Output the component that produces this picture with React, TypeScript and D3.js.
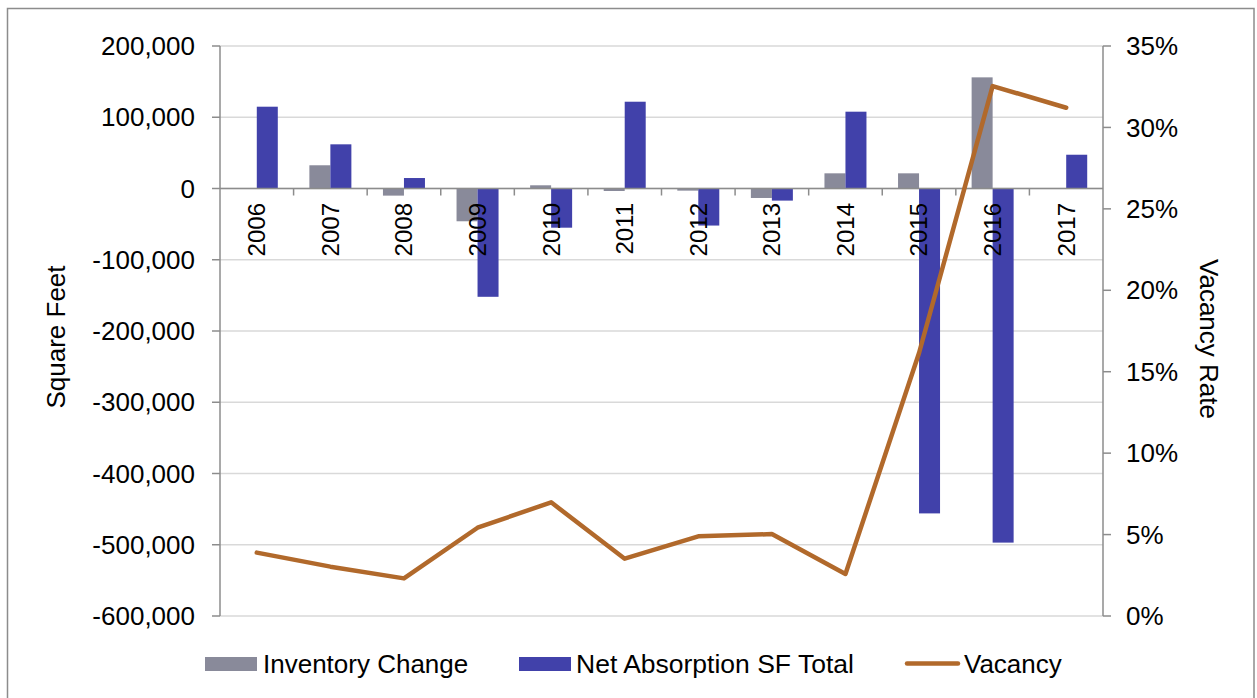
import React from "react";
import * as d3 from "d3";

const years = ["2006","2007","2008","2009","2010","2011","2012","2013","2014","2015","2016","2017"];
const inventoryChange = [0, 32600, -10000, -46000, 4500, -3500, -3000, -13300, 21300, 21300, 156000, 0];
const netAbsorption = [114800, 62000, 14700, -152000, -55000, 121800, -52000, -17000, 107800, -456000, -497000, 47400];
const vacancy = [0.0389, 0.0303, 0.0231, 0.0542, 0.0698, 0.0352, 0.0489, 0.0503, 0.0258, 0.1615, 0.3254, 0.3121];
const leftTicks = [200000, 100000, 0, -100000, -200000, -300000, -400000, -500000, -600000];
const rightTicks = [0, 0.05, 0.1, 0.15, 0.2, 0.25, 0.3, 0.35];
const seriesNames = ["Inventory Change", "Net Absorption SF Total", "Vacancy"];

const W = 1257, H = 698;
const left = 220, right = 1103, top = 46, bottom = 616;
const FONT = "'Liberation Sans', Arial, sans-serif";
const GRAY = "#898A9A";
const BLUE = "#4141AA";
const ORANGE = "#B1692B";
const AXIS = "#8C8C8C";
const GRID = "#D9D9D9";

export default function App() {
  const x = d3.scaleBand<string>().domain(years).range([left, right]).paddingInner(0).paddingOuter(0);
  const x1 = d3.scaleBand<string>().domain(["inv", "net"]).range([0, x.bandwidth()]).paddingInner(0).paddingOuter(0.752);
  const yL = d3.scaleLinear().domain([-600000, 200000]).range([bottom, top]);
  const yR = d3.scaleLinear().domain([0, 0.35]).range([bottom, top]);
  const fmtL = (v: number) => d3.format(",")(v).replace("\u2212", "-");
  const fmtR = d3.format(".0%");
  const y0 = yL(0);

  const line = d3.line<number>()
    .x((_, i) => (x(years[i]) as number) + x.bandwidth() / 2)
    .y((d) => yR(d));

  const barRect = (v: number, i: number, key: string, color: string) => {
    const bx = (x(years[i]) as number) + (x1(key) as number);
    const yv = yL(v);
    return (
      <rect key={key + i} x={bx} y={Math.min(yv, y0)} width={x1.bandwidth()} height={Math.abs(yv - y0)} fill={color} />
    );
  };

  return (
    <svg width={W} height={H} style={{ position: "fixed", left: 0, top: 0, background: "#fff" }} fontFamily={FONT}>
      <rect x={7.5} y={8.5} width={1246.5} height={700} fill="#fff" stroke={AXIS} strokeWidth={1.5} />
      {leftTicks.map((t) => (
        <line key={"g" + t} x1={left} x2={right} y1={yL(t)} y2={yL(t)} stroke={GRID} strokeWidth={1.5} />
      ))}
      {inventoryChange.map((v, i) => barRect(v, i, "inv", GRAY))}
      {netAbsorption.map((v, i) => barRect(v, i, "net", BLUE))}
      <line x1={left} x2={right} y1={y0} y2={y0} stroke={AXIS} strokeWidth={1.5} />
      {years.slice(1).map((yr) => (
        <line key={"ct" + yr} x1={x(yr) as number} x2={x(yr) as number} y1={y0} y2={y0 + 7} stroke={AXIS} strokeWidth={1.5} />
      ))}
      <line x1={left} x2={left} y1={top} y2={bottom} stroke={AXIS} strokeWidth={1.5} />
      {leftTicks.map((t) => (
        <g key={"lt" + t}>
          <line x1={left - 8} x2={left} y1={yL(t)} y2={yL(t)} stroke={AXIS} strokeWidth={1.5} />
          <text x={195} y={yL(t)} dy="0.35em" textAnchor="end" fontSize={26} fill="#000">{fmtL(t)}</text>
        </g>
      ))}
      <line x1={right} x2={right} y1={top} y2={bottom} stroke={AXIS} strokeWidth={1.5} />
      {rightTicks.map((t) => (
        <g key={"rt" + t}>
          <line x1={right} x2={right + 8} y1={yR(t)} y2={yR(t)} stroke={AXIS} strokeWidth={1.5} />
          <text x={1126} y={yR(t)} dy="0.35em" textAnchor="start" fontSize={26} fill="#000">{fmtR(t)}</text>
        </g>
      ))}
      {years.map((yr) => (
        <text key={"cl" + yr} transform={`translate(${(x(yr) as number) + x.bandwidth() / 2},203) rotate(-90)`}
          dy="0.35em" textAnchor="end" fontSize={24} fill="#000">{yr}</text>
      ))}
      <path d={line(vacancy) as string} fill="none" stroke={ORANGE} strokeWidth={4.5} strokeLinejoin="round" strokeLinecap="round" />
      <text transform="translate(56,337) rotate(-90)" dy="0.35em" textAnchor="middle" fontSize={26} fill="#000">Square Feet</text>
      <text transform="translate(1209,339) rotate(90)" dy="0.35em" textAnchor="middle" fontSize={26} fill="#000">Vacancy Rate</text>
      <rect x={205} y={657} width={52} height={14} fill={GRAY} />
      <text x={263} y={664} dy="0.35em" fontSize={26} fill="#000">{seriesNames[0]}</text>
      <rect x={519} y={657} width={52} height={14} fill={BLUE} />
      <text x={576} y={664} dy="0.35em" fontSize={26.5} fill="#000">{seriesNames[1]}</text>
      <line x1={907} x2={958} y1={663.5} y2={663.5} stroke={ORANGE} strokeWidth={4.5} strokeLinecap="round" />
      <text x={964} y={664} dy="0.35em" fontSize={26} fill="#000">{seriesNames[2]}</text>
    </svg>
  );
}
